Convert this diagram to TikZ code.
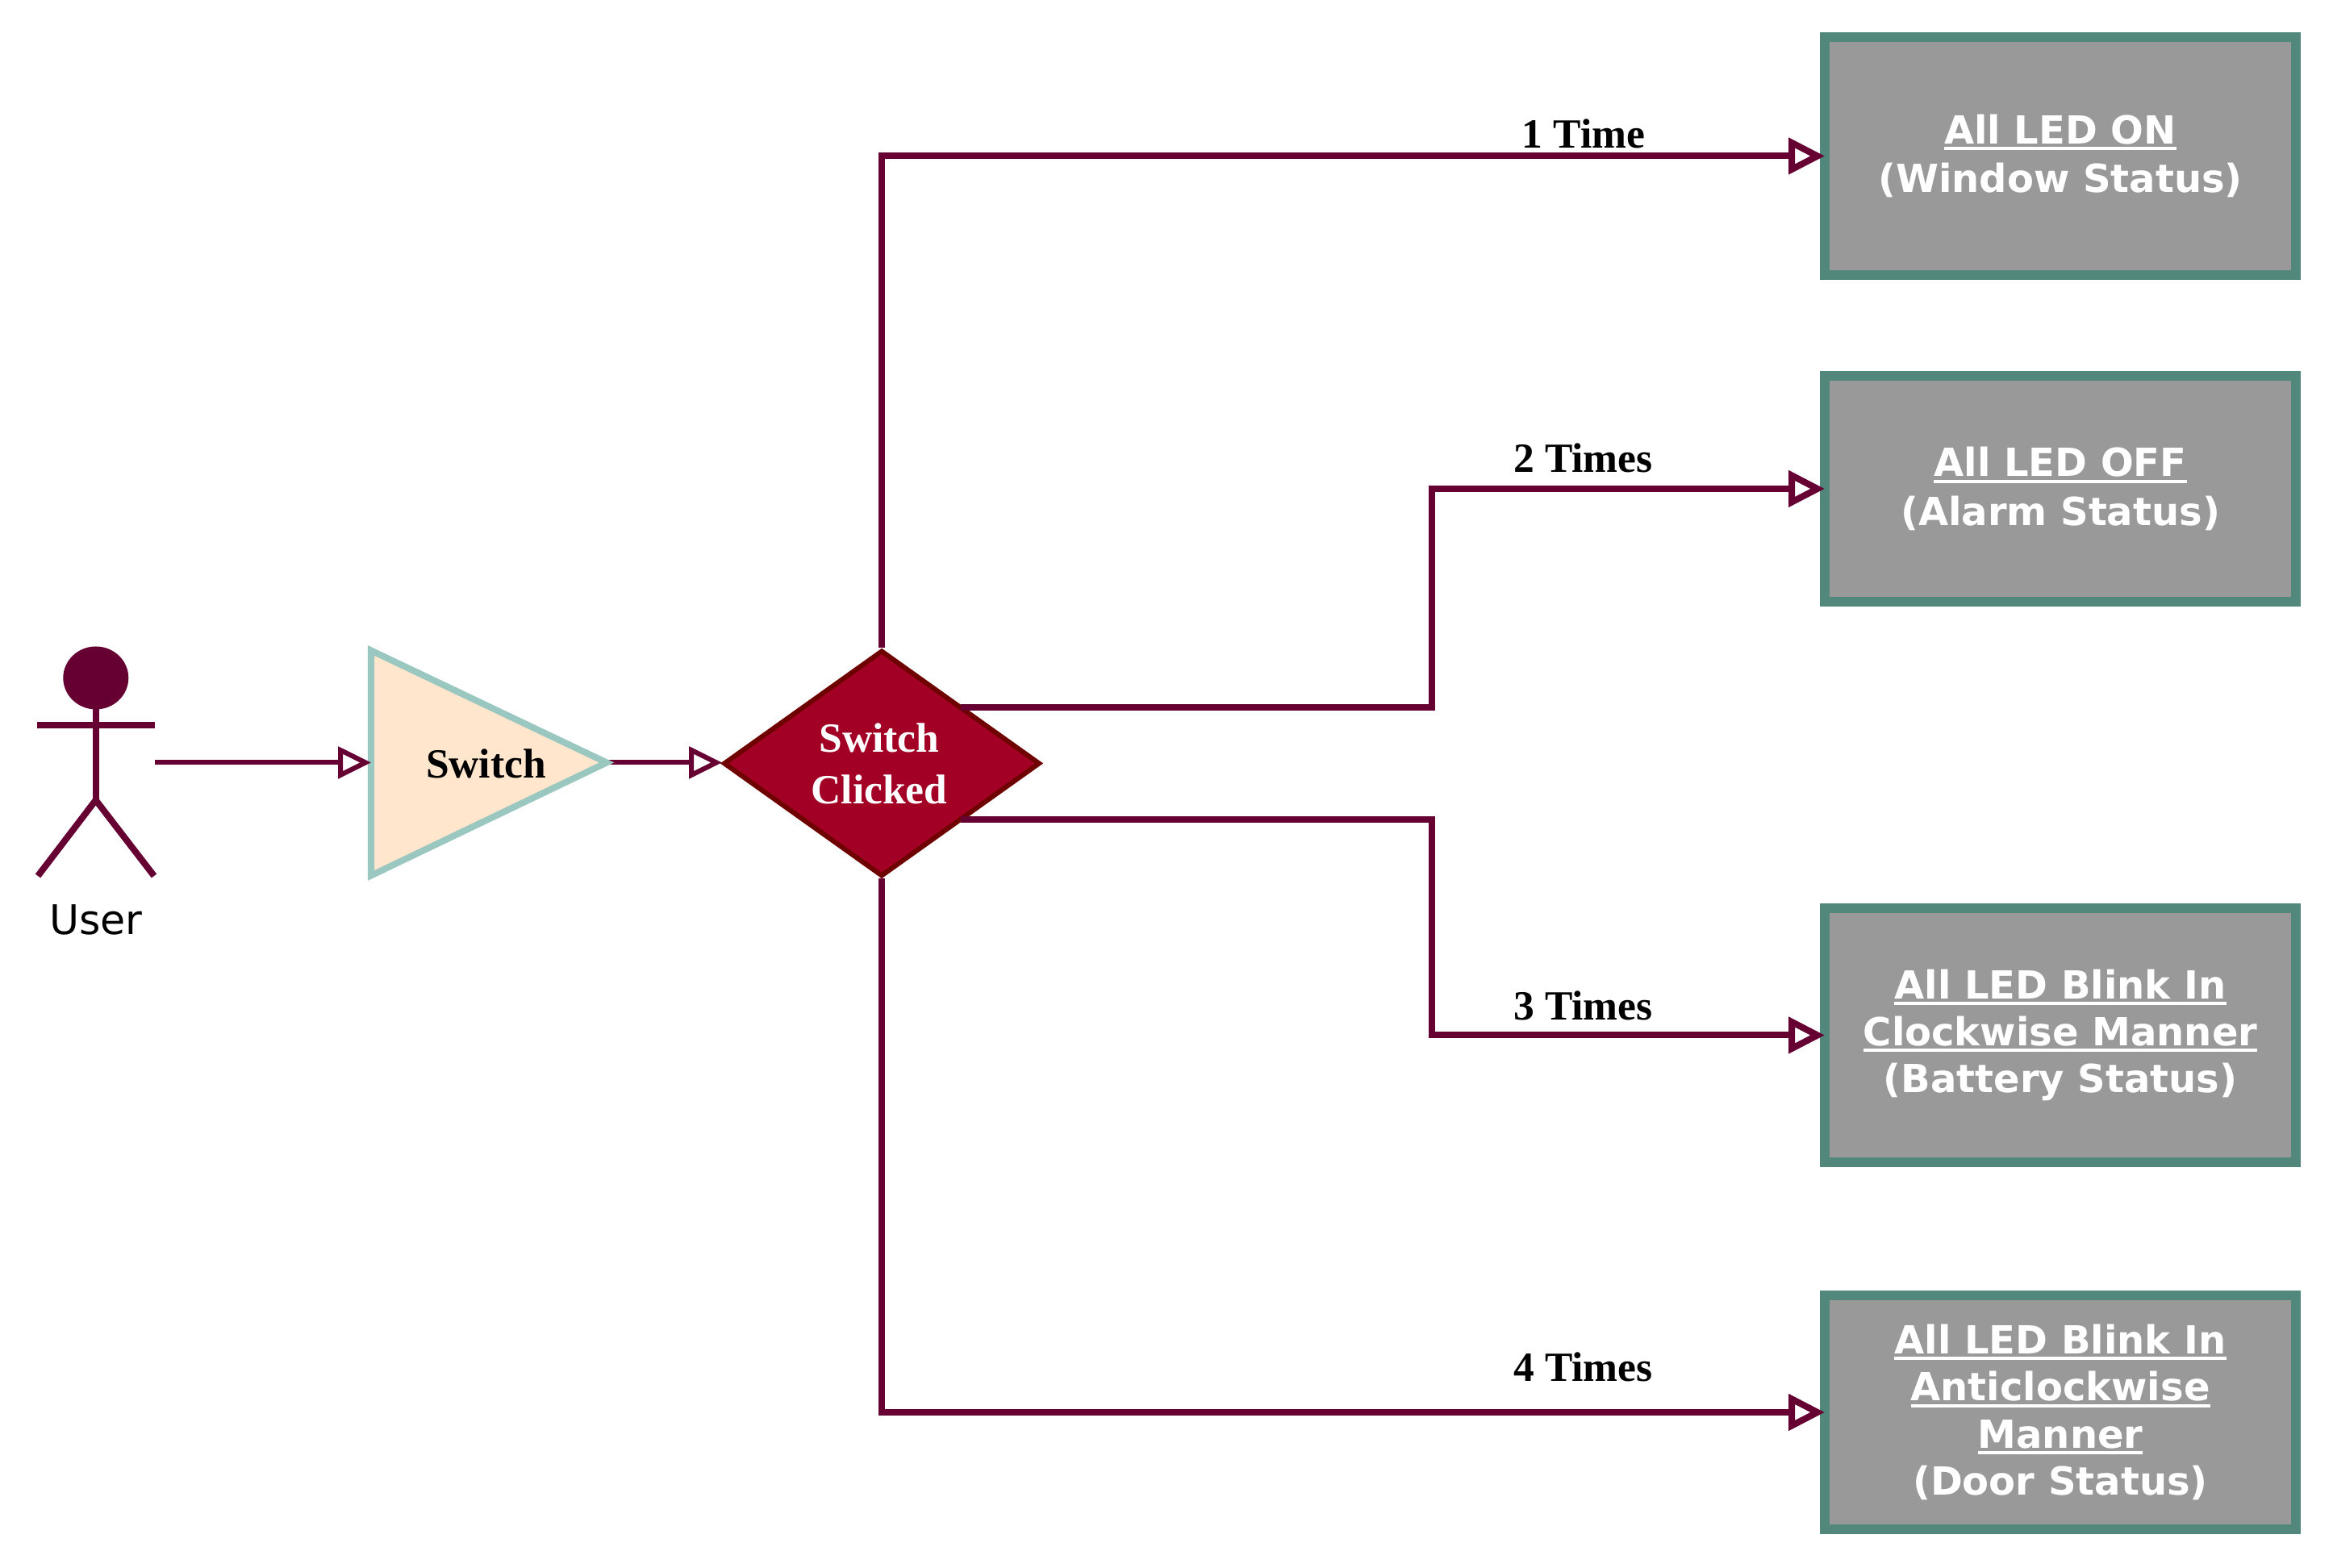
\documentclass[tikz,border=0pt]{standalone}
\usepackage{fontspec}
\setmainfont{Liberation Serif}
\newfontfamily\ledfamily{DejaVu Sans}
\usetikzlibrary{arrows.meta,shapes.geometric}

\definecolor{wire}{HTML}{660033}
\definecolor{tealedge}{HTML}{52887C}
\definecolor{boxgrey}{HTML}{999999}
\definecolor{mintedge}{HTML}{9AC7BF}
\definecolor{peach}{HTML}{FFE6CC}
\definecolor{clickred}{HTML}{A20025}
\definecolor{clickedge}{HTML}{6F0000}

\newcommand{\ledul}[1]{\setbox0\hbox{#1}\rlap{\rule[-2.2pt]{\wd0}{1.1pt}}\box0}

\tikzset{
ledbox/.style={rectangle,draw=tealedge,fill=boxgrey,line width=3.41pt,minimum width=5.84cm,inner sep=0pt,outer sep=0pt,align=center,text=white,font=\ledfamily\bfseries\fontsize{13.66pt}{16.6pt}\selectfont},
timeslabel/.style={anchor=base,inner sep=0pt,font=\bfseries\fontsize{14.65pt}{18pt}\selectfont},
wideline/.style={draw=wire,line width=2.28pt,-{Triangle[fill=white,length=.45cm,width=.44cm]}},
thinline/.style={draw=wire,line width=1.71pt,-{Triangle[fill=white,length=.41cm,width=.39cm]}},
}

\begin{document}
\begin{tikzpicture}[inner sep=0pt]
\useasboundingbox (0,0) rectangle (28.92,19.44);

\node[ledbox,minimum height=2.95cm] (allon) at (25.54,17.505) {\ledul{All LED ON}\\[.6pt](Window Status)};
\node[ledbox,minimum height=2.80cm] (alloff) at (25.54,13.38) {\ledul{All LED OFF}\\[.6pt](Alarm Status)};
\node[ledbox,minimum height=3.15cm] (clockwise) at (25.54,6.605) {\ledul{All LED Blink In}\\\ledul{Clockwise Manner}\\(Battery Status)};
\node[ledbox,minimum height=2.90cm] (anticlock) at (25.54,1.93) {\ledul{All LED Blink In}\\\ledul{Anticlockwise}\\\ledul{Manner}\\(Door Status)};

\coordinate (hand) at (1.92,9.985);
\coordinate (swback) at (4.60,9.985);
\coordinate (swtip) at (7.52,9.985);
\coordinate (swtop) at (4.60,11.375);
\coordinate (swbot) at (4.60,8.585);

\node[diamond,draw=clickedge,fill=clickred,line width=1.71pt,minimum width=3.90cm,minimum height=2.78cm,outer sep=0pt,shape aspect=1.39,align=center,text=white,font=\bfseries\fontsize{14.65pt}{18.2pt}\selectfont] (clicked) at (10.93,9.975) {\hspace*{-.06cm}Switch\\\hspace*{-.06cm}Clicked};

\draw[wideline,shorten <=.04cm] (clicked.north) |- (allon.west);
\draw[wideline] (clicked.north east) -- ++(5.845,0) |- (alloff.west);
\draw[wideline] (clicked.south east) -- ++(5.845,0) |- (clockwise.west);
\draw[wideline,shorten <=.04cm] (clicked.south) |- (anticlock.west);
\draw[thinline,shorten >=.03cm] (swtip) -- (clicked.west |- swtip);

\draw[draw=mintedge,fill=peach,line width=2.28pt] (swtop) -- (swtip) -- (swbot) -- cycle;

\draw[thinline] (hand) -- (swback);

\node[inner sep=0pt,font=\bfseries\fontsize{14.65pt}{18pt}\selectfont,anchor=base] (swlabel) at (6.025,9.79) {Switch};

\node[timeslabel] (once) at (19.63,17.60) {1 Time};
\node[timeslabel] (twice) at (19.625,13.585) {2 Times};
\node[timeslabel] (thrice) at (19.625,6.795) {3 Times};
\node[timeslabel] (fourtimes) at (19.625,2.315) {4 Times};

\fill[wire] (1.188,11.035) ellipse (.405 and .39);
\draw[wire,line width=2.28pt] (1.187,10.8) -- (1.187,9.52);
\draw[wire,line width=2.28pt] (0.46,10.45) -- (1.92,10.45);
\draw[wire,line width=2.28pt] (0.47,8.58) -- (1.187,9.52) -- (1.91,8.58);

\node[inner sep=0pt,anchor=base,font=\ledfamily\fontsize{14.4pt}{17pt}\selectfont] (user) at (1.19,7.85) {User};

\end{tikzpicture}
\end{document}
